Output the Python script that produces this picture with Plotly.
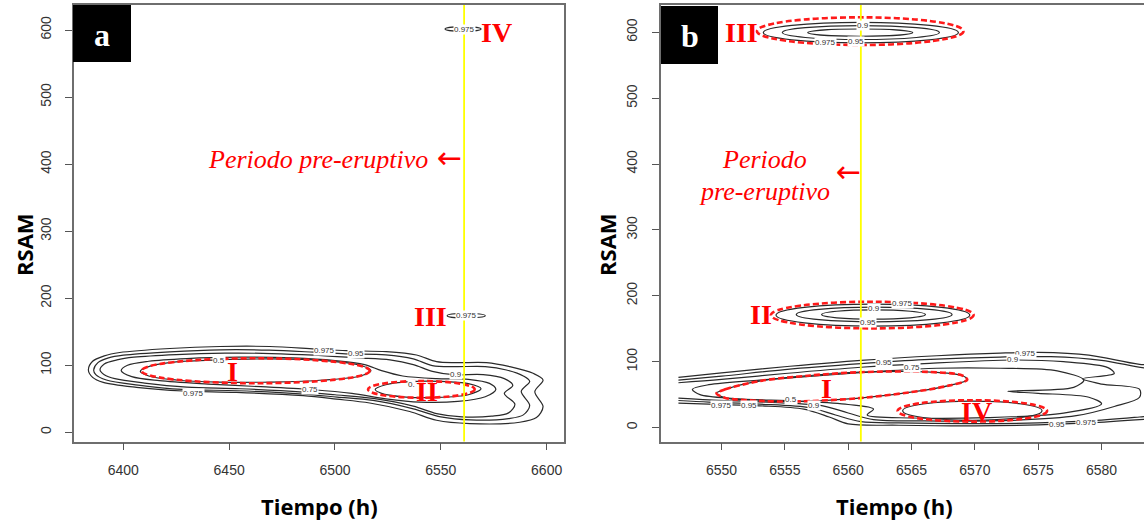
import plotly.graph_objects as go

# ---------------- Panel a : contour lines ----------------
A_C975_X = [6383.5, 6385.5, 6391, 6398.3, 6422.0, 6445.6, 6469.2, 6490.5, 6505.4, 6524.3, 6538.5, 6548.0, 6557.4,
            6571.6, 6582.6, 6593.6, 6598.3, 6594.4, 6598.3, 6595.2, 6587.3, 6563.7, 6548.0, 6535.3, 6516.4, 6500.7,
            6485.0, 6453.5, 6428.3, 6406.2, 6390.5, 6385.5, 6383.5]
A_C975_Y = [93, 106, 114, 119, 125, 128, 128, 124.3, 121.8, 120.3, 115.3, 105.4, 103.9,
            103.9, 97.9, 88.0, 78.0, 60.6, 38.3, 22, 15, 13, 18, 31, 43.7, 49.5,
            54.6, 59.6, 61.6, 67.1, 74.5, 82, 93]
A_C95_X = [6386, 6388, 6393, 6400, 6422, 6446, 6469, 6490, 6505, 6524, 6537, 6546, 6557, 6571, 6581, 6589, 6592,
           6588, 6592, 6589, 6582, 6564, 6550, 6537, 6518, 6501, 6485, 6454, 6428, 6407, 6392, 6387, 6386]
A_C95_Y = [93, 104, 111, 115, 120, 123, 122.5, 119.5, 117, 115.5, 109.5, 99.5, 98, 98, 93, 84, 76,
           61, 40, 26, 20.5, 18.5, 23, 35, 47.5, 52.5, 57, 62, 64, 70.5, 78, 86, 93]
A_C90_X = [6389, 6391, 6397, 6405, 6425, 6448, 6470, 6490, 6510, 6526, 6537, 6546, 6556, 6570, 6580, 6584, 6580,
           6585, 6582, 6574, 6560, 6548, 6537, 6518, 6500, 6485, 6455, 6430, 6410, 6396, 6391, 6389]
A_C90_Y = [93, 102, 108, 112, 116, 118, 117.5, 115, 111, 108, 101, 91, 86, 86, 80, 70, 58,
           42, 29, 24, 23, 28, 39, 50.5, 56, 60, 65, 67.5, 73.5, 80, 86, 93]
A_C75_X = [6399, 6402, 6412, 6430, 6455, 6480, 6500, 6514, 6522, 6532, 6548, 6563, 6573, 6576, 6571, 6558, 6540,
           6524, 6508, 6490, 6465, 6440, 6417, 6404, 6399]
A_C75_Y = [92, 100, 106, 110, 112, 111, 107, 101, 92, 84, 80, 79, 73, 64, 53, 46, 45,
           50, 58, 63.5, 68, 72, 77, 83, 92]
A_C50I_X = [6408, 6413, 6425, 6445, 6470, 6495, 6512, 6517, 6512, 6495, 6470, 6445, 6425, 6412, 6408]
A_C50I_Y = [91, 99, 105, 108, 109.5, 107, 100, 92, 84, 78, 75, 75, 78, 84, 91]
A_C50II_X = [6519, 6524, 6535, 6550, 6563, 6569, 6563, 6548, 6532, 6522, 6519]
A_C50II_Y = [64, 71, 75.5, 76, 72.5, 65, 56, 52, 53, 58, 64]
# tiny contours (x0, x1, y0, y1)
A_SMALL = [(6553, 6571, 170.5, 177.5), (6552, 6569, 598, 605)]
# red hand-drawn ellipses (x0, x1, y0, y1)
A_RED = [(6408.6, 6516.4, 73.2, 110.4), (6515.6, 6566.0, 51.6, 76.5)]
# contour labels
A_LAB_TXT = ["0.975", "0.95", "0.9", "0.5", "0.75", "0.975", "0.", "0.975", "0.975"]
A_LAB_X = [6495, 6510, 6557, 6445, 6488, 6433, 6536, 6562, 6561]
A_LAB_Y = [121.5, 118, 85.5, 107, 63.5, 58.5, 71, 174, 601.5]
# red roman numerals
A_NUM_TXT = ["I", "II", "III", "IV"]
A_NUM_X = [6451.5, 6543.3, 6544.9, 6576.5]
A_NUM_Y = [90.4, 60.6, 172, 597]

# ---------------- Panel b ----------------
B_C975_X = [6546.6, 6550, 6555.4, 6561, 6567, 6572, 6575, 6579, 6583, 6587, 6588, 6587, 6583, 6579, 6575, 6570,
            6564, 6560, 6558.5, 6556.5, 6553, 6549, 6546.6]
B_C975_Y = [76, 83, 93, 102, 109, 113, 114, 110, 96, 90, 50, 18, 12, 7, 4, 2.5,
            3.5, 5.5, 16, 28, 33, 35.5, 37]
B_C95_X = [6546.6, 6550, 6555, 6561, 6566, 6572, 6576, 6580, 6583.5, 6587, 6588, 6587, 6583, 6579, 6575, 6570,
           6564, 6561, 6559, 6557, 6553, 6549, 6546.6]
B_C95_Y = [72, 78, 88, 97, 103, 107, 107.5, 102, 90, 84, 45, 23, 16, 10, 7, 6,
           7, 9, 19, 30, 35.5, 38.5, 41]
B_C90_X = [6546.6, 6550, 6555, 6561, 6566, 6573, 6577, 6580.5, 6581, 6578.5, 6580, 6583, 6583, 6581, 6578, 6573,
           6566, 6562, 6560, 6558, 6554, 6549, 6546.6]
B_C90_Y = [68, 73, 82, 91.5, 97, 102.5, 100, 91, 82, 74, 66, 58, 46, 32, 18, 11,
           10, 12, 22, 33, 38, 42, 44.6]
B_C75_X = [6547.7, 6549, 6553, 6558, 6563, 6567, 6572, 6576.5, 6578.6, 6577.8, 6572.6, 6575, 6579, 6580, 6577,
           6571, 6565, 6561.5, 6562, 6560, 6556, 6551, 6548.3, 6547.7]
B_C75_Y = [58, 65, 72, 79, 86, 90, 90, 86, 72, 61, 55, 52, 46, 36, 22,
           15, 14.5, 19, 28, 35, 40, 44, 50, 58]
# tilted 0.5 contour around I (also the red ellipse I)
B_I_X = [6549.6, 6550.3, 6553.0, 6557.0, 6560.9, 6566.2, 6569.0, 6569.4, 6568.0, 6566.2, 6560.9, 6555.7,
         6553.0, 6550.3, 6549.6]
B_I_Y = [52, 58, 70.5, 79, 84, 84.5, 79, 72.4, 64, 57.2, 44.6, 39.5, 40.5, 45, 52]
# ellipse-like contours (x0, x1, y0, y1)
B_OVALS = [(6553.3, 6568.7, 584, 615), (6554.8, 6567.2, 589, 610), (6556.8, 6565.1, 594, 605),
           (6554.3, 6569.6, 154, 187.4), (6555.9, 6568.2, 160.4, 182.7), (6557.9, 6566.1, 164.5, 178.6),
           (6564.3, 6575.3, 11, 40)]
B_RED = [(6552.8, 6569.1, 580.7, 622.7), (6553.9, 6569.9, 150.5, 191), (6563.9, 6575.7, 9, 41.5)]
B_LAB_TXT = ["0.9", "0.975", "0.95", "0.975", "0.9", "0.95", "0.975", "0.9", "0.95", "0.75",
             "0.975", "0.95", "0.5", "0.9", "0.95", "0.975"]
B_LAB_X = [6561.2, 6558.2, 6560.6, 6564.3, 6562.0, 6561.6, 6574.0, 6573.0, 6562.8, 6565.0,
           6550.0, 6552.2, 6555.5, 6557.3, 6576.5, 6578.8]
B_LAB_Y = [610, 585, 586, 188, 180, 159.5, 113, 104, 99, 91.5,
           33, 34, 43, 33, 5, 7]
B_NUM_TXT = ["I", "II", "III", "IV"]
B_NUM_X = [6558.3, 6553.1, 6551.6, 6570.1]
B_NUM_Y = [59.8, 171, 600, 24.3]

EVENT_TIME = 6561
A_XTICKS = [6400, 6450, 6500, 6550, 6600]
B_XTICKS = [6550, 6555, 6560, 6565, 6570, 6575, 6580]
Y_TICKS = [0, 100, 200, 300, 400, 500, 600]

W, H = 1144, 523
fig = go.Figure()

LINE_COL = "#2a2a2a"


def add_line(xs, ys, xa, ya, color=LINE_COL, width=1.2, dash=None):
    fig.add_trace(go.Scatter(x=xs, y=ys, mode="lines", xaxis=xa, yaxis=ya, hoverinfo="skip", showlegend=False,
                             line=dict(color=color, width=width, shape="spline", smoothing=0.9, dash=dash)))


for xs, ys in [(A_C975_X, A_C975_Y), (A_C95_X, A_C95_Y), (A_C90_X, A_C90_Y), (A_C75_X, A_C75_Y),
               (A_C50I_X, A_C50I_Y), (A_C50II_X, A_C50II_Y)]:
    add_line(xs, ys, "x", "y")
for xs, ys in [(B_C975_X, B_C975_Y), (B_C95_X, B_C95_Y), (B_C90_X, B_C90_Y), (B_C75_X, B_C75_Y),
               (B_I_X, B_I_Y)]:
    add_line(xs, ys, "x2", "y2")
# red dashed ellipse I of panel b (hand drawn over the 0.5 contour)
add_line(B_I_X, B_I_Y, "x2", "y2", color="#ff1a1a", width=2.6, dash="6px,3px")

shapes = []
for (x0, x1, y0, y1) in A_SMALL:
    shapes.append(dict(type="circle", xref="x", yref="y", x0=x0, x1=x1, y0=y0, y1=y1,
                       line=dict(color=LINE_COL, width=1.1)))
for (x0, x1, y0, y1) in B_OVALS:
    shapes.append(dict(type="circle", xref="x2", yref="y2", x0=x0, x1=x1, y0=y0, y1=y1,
                       line=dict(color=LINE_COL, width=1.2)))
for (x0, x1, y0, y1) in A_RED:
    shapes.append(dict(type="circle", xref="x", yref="y", x0=x0, x1=x1, y0=y0, y1=y1,
                       line=dict(color="#ff1a1a", width=2.6, dash="6px,3px")))
for (x0, x1, y0, y1) in B_RED:
    shapes.append(dict(type="circle", xref="x2", yref="y2", x0=x0, x1=x1, y0=y0, y1=y1,
                       line=dict(color="#ff1a1a", width=2.6, dash="6px,3px")))
# yellow event lines
shapes.append(dict(type="line", xref="x", yref="y domain", x0=EVENT_TIME, x1=EVENT_TIME, y0=0, y1=1,
                   line=dict(color="#ffff00", width=1.8)))
shapes.append(dict(type="line", xref="x2", yref="y2 domain", x0=EVENT_TIME, x1=EVENT_TIME, y0=0, y1=1,
                   line=dict(color="#ffff00", width=1.8)))
# black label boxes
shapes.append(dict(type="rect", xref="paper", yref="paper", x0=73 / W, x1=131 / W, y0=1 - 62 / H, y1=1 - 5 / H,
                   fillcolor="black", line=dict(width=0)))
shapes.append(dict(type="rect", xref="paper", yref="paper", x0=661 / W, x1=718 / W, y0=1 - 64 / H, y1=1 - 6 / H,
                   fillcolor="black", line=dict(width=0)))

ann = []
for t, x, y in zip(A_LAB_TXT, A_LAB_X, A_LAB_Y):
    ann.append(dict(text=t, x=x, y=y, xref="x", yref="y", showarrow=False, bgcolor="white", borderpad=0,
                    font=dict(family="Liberation Sans", size=8, color="#333")))
for t, x, y in zip(B_LAB_TXT, B_LAB_X, B_LAB_Y):
    ann.append(dict(text=t, x=x, y=y, xref="x2", yref="y2", showarrow=False, bgcolor="white", borderpad=0,
                    font=dict(family="Liberation Sans", size=8, color="#333")))
RED_FONT = dict(family="Liberation Serif", size=28, color="#ff0000")
for t, x, y in zip(A_NUM_TXT, A_NUM_X, A_NUM_Y):
    ann.append(dict(text="<b>%s</b>" % t, x=x, y=y, xref="x", yref="y", showarrow=False, font=RED_FONT))
for t, x, y in zip(B_NUM_TXT, B_NUM_X, B_NUM_Y):
    ann.append(dict(text="<b>%s</b>" % t, x=x, y=y, xref="x2", yref="y2", showarrow=False, font=RED_FONT))

ITAL = dict(family="Liberation Serif", size=26, color="#ff0000")
ARROW_FONT = dict(family="DejaVu Sans", size=30, color="#ff0000")


def P(px, py):
    return px / W, 1 - py / H


def add_paper_text(text, px, py, font, angle=0):
    x, y = P(px, py)
    ann.append(dict(text=text, x=x, y=y, xref="paper", yref="paper", showarrow=False, font=font,
                    textangle=angle, xanchor="center", yanchor="middle"))


add_paper_text("<i>Periodo pre-eruptivo</i>", 318.5, 160, ITAL)
add_paper_text("←", 449, 157, ARROW_FONT)
add_paper_text("<i>Periodo</i>", 764, 160, ITAL)
add_paper_text("<i>pre-eruptivo</i>", 764, 191, ITAL)
add_paper_text("←", 848, 172, ARROW_FONT)
add_paper_text("<b>a</b>", 102, 35, dict(family="Liberation Serif", size=32, color="white"))
add_paper_text("<b>b</b>", 689.5, 36, dict(family="Liberation Serif", size=32, color="white"))
TITLE_FONT = dict(family="Open Sans", size=22, color="black")
add_paper_text("<b>Tiempo (h)</b>", 319, 506, TITLE_FONT)
add_paper_text("<b>Tiempo (h)</b>", 895, 506, TITLE_FONT)
add_paper_text("<b>RSAM</b>", 24, 245, TITLE_FONT, angle=-90)
add_paper_text("<b>RSAM</b>", 607, 245, TITLE_FONT, angle=-90)

TICKFONT = dict(family="Liberation Sans", size=14, color="#333")
axis_common = dict(showline=True, linecolor="#6e6e6e", linewidth=1.6, ticks="outside", ticklen=7,
                   tickcolor="#555", tickwidth=1.2, tickfont=TICKFONT, showgrid=False, zeroline=False)
ydom = [1 - 441.5 / H, 1 - 5 / H]

fig.update_layout(
    width=W, height=H, margin=dict(l=0, r=0, t=0, b=0),
    paper_bgcolor="white", plot_bgcolor="white", showlegend=False,
    xaxis=dict(domain=[74 / W, 564 / W], range=[6376.7, 6608.2], anchor="y", tickvals=A_XTICKS,
               mirror=True, ticklabelstandoff=8, **axis_common),
    yaxis=dict(domain=ydom, range=[-13.7, 637.3], anchor="x", tickvals=Y_TICKS, tickangle=-90,
               mirror=True, ticklabelstandoff=9, **axis_common),
    xaxis2=dict(domain=[660.7 / W, 1.0], range=[6545.2, 6583.35], anchor="y2", tickvals=B_XTICKS,
                mirror=True, ticklabelstandoff=8, **axis_common),
    yaxis2=dict(domain=ydom, range=[-21.2, 641.4], anchor="x2", tickvals=Y_TICKS, tickangle=-90,
                mirror=False, ticklabelstandoff=9, **axis_common),
    shapes=shapes, annotations=ann,
)

fig.write_html("out.html")
